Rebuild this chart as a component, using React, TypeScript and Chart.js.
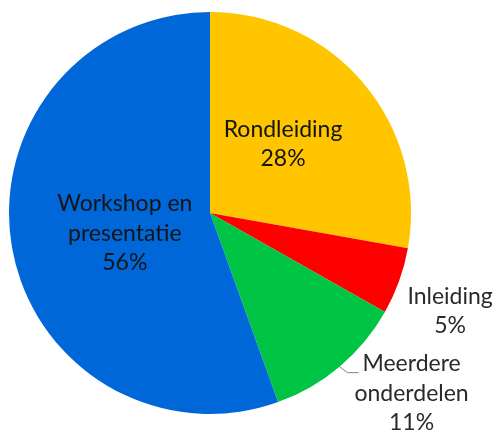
import React, { useEffect, useRef } from "react";
import { Chart, registerables } from "chart.js";

Chart.register(...registerables);

const categories = ["Rondleiding", "Inleiding", "Meerdere onderdelen", "Workshop en presentatie"];
const values = [27.8, 5.4, 11.3, 55.5];
const labelLines = [["Rondleiding"], ["Inleiding"], ["Meerdere", "onderdelen"], ["Workshop en", "presentatie"]];
const colors = ["#FFC600", "#FF0000", "#00C444", "#0067D8"];

const FONT = "23px Lato";
const LINE_H = 29.5;

// per slice: placement mode and fine tuning
const placement = [
  { mode: "inside", r: 0.5, dx: -4, dy: 3, color: "#141414" },
  { mode: "outside", r: 1.0, dx: 51, dy: 37.5, color: "#2a2a2a" },
  { mode: "leader", r: 1.0, dx: 53, dy: 28, color: "#2a2a2a" },
  { mode: "inside", r: 0.4, dx: -6, dy: 14, color: "#141414" },
];

const labelPlugin = {
  id: "sliceLabels",
  afterDatasetsDraw(chart: any) {
    const ctx = chart.ctx;
    const meta = chart.getDatasetMeta(0);
    const data = chart.data.datasets[0].data as number[];
    const total = data.reduce((a, b) => a + b, 0);
    ctx.save();
    ctx.font = FONT;
    ctx.textAlign = "center";
    ctx.textBaseline = "alphabetic";
    meta.data.forEach((arc: any, i: number) => {
      const p = arc.getProps(["x", "y", "startAngle", "endAngle", "outerRadius"], true);
      const mid = (p.startAngle + p.endAngle) / 2;
      const cos = Math.cos(mid);
      const sin = Math.sin(mid);
      const lines = [...labelLines[i], Math.round((data[i] / total) * 100) + "%"];
      const pl = placement[i];
      let cx = 0;
      let cy = 0;
      if (pl.mode === "inside") {
        cx = p.x + cos * p.outerRadius * pl.r + pl.dx;
        cy = p.y + sin * p.outerRadius * pl.r + pl.dy;
      } else if (pl.mode === "outside") {
        const ex = p.x + cos * p.outerRadius;
        const ey = p.y + sin * p.outerRadius;
        cx = ex + pl.dx;
        cy = ey + pl.dy;
      } else {
        const ex = p.x + cos * p.outerRadius;
        const ey = p.y + sin * p.outerRadius;
        const kx = ex + 8;
        const ky = ey + 6;
        const hx = kx + 11;
        ctx.strokeStyle = "#808080";
        ctx.lineWidth = 1;
        ctx.beginPath();
        ctx.moveTo(ex, ey);
        ctx.lineTo(kx, ky);
        ctx.lineTo(hx, ky);
        ctx.stroke();
        cx = hx + pl.dx;
        cy = ky + pl.dy;
      }
      ctx.fillStyle = pl.color;
      const startY = cy - ((lines.length - 1) * LINE_H) / 2;
      lines.forEach((t, j) => ctx.fillText(t, cx, startY + j * LINE_H));
    });
    ctx.restore();
  },
};

export default function App() {
  const ref = useRef<HTMLCanvasElement>(null);
  useEffect(() => {
    document.body.style.margin = "0";
    const chart = new Chart(ref.current!, {
      type: "pie",
      data: {
        labels: categories,
        datasets: [{ data: values, backgroundColor: colors, borderWidth: 0 }],
      },
      options: {
        responsive: false,
        animation: false,
        layout: { padding: { left: 9, right: 82, top: 12, bottom: 20 } },
        plugins: { legend: { display: false }, tooltip: { enabled: false } },
      },
      plugins: [labelPlugin],
    });
    return () => chart.destroy();
  }, []);
  return (
    <div style={{ width: 493, height: 434, background: "#fff" }}>
      <canvas ref={ref} width={493} height={434} />
    </div>
  );
}
